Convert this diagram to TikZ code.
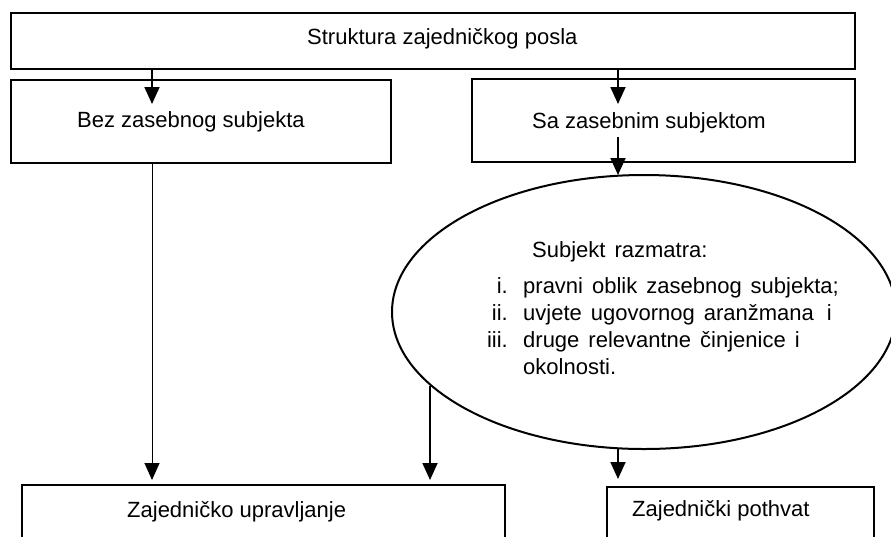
\documentclass[tikz,border=0pt]{standalone}
\usepackage{fontspec}
\setmainfont{Liberation Sans}
\usetikzlibrary{arrows.meta,shapes.geometric}
\newcommand\myWideSpace{\spaceskip=9pt\relax}
\tikzset{
  box/.style={draw, line width=2.3pt, inner sep=0pt, outer sep=0pt, anchor=north west},
  arr/.style={line width=1.8pt, -{Triangle[width=15pt,length=17pt]}},
  thinarr/.style={line width=0.9pt, -{Triangle[width=15pt,length=17pt]}},
  lbl/.style={font=\fontsize{22}{26}\selectfont, inner sep=0pt, anchor=base west},
  elbl/.style={font=\fontsize{22}{26}\selectfont\myWideSpace, inner sep=0pt, anchor=base west},
  num/.style={font=\fontsize{22}{26}\selectfont, inner sep=0pt, anchor=base east}
}
\begin{document}
\begin{tikzpicture}[x=1pt,y=-1pt]
\useasboundingbox (0,0) rectangle (891,536);
\clip (0,0) rectangle (891,536);
% boxes
\node[box, minimum width=844pt, minimum height=56pt] (top) at (11,13) {};
\node[box, minimum width=380pt, minimum height=83pt] (bez) at (11,80) {};
\node[box, minimum width=383pt, minimum height=83pt] (sa) at (472,79) {};
\node[box, minimum width=483pt, minimum height=80pt] (zu) at (22,485) {};
\node[box, minimum width=267pt, minimum height=80pt] (zp) at (607,487) {};
\node[draw, ellipse, line width=2pt, inner sep=0pt, outer sep=0pt,
      minimum width=504pt, minimum height=274pt] (ell) at (644,312) {};
% texts
\node[lbl] (tTop) at (307,44) {Struktura zajedničkog posla};
\node[lbl] (tBez) at (77,127) {Bez zasebnog subjekta};
\node[lbl] (tSa) at (532,128) {Sa zasebnim subjektom};
\node[lbl] (tZu) at (127,517) {Zajedničko upravljanje};
\node[lbl] (tZp) at (632,516) {Zajednički pothvat};
\node[elbl] (tSub) at (532,257) {Subjekt razmatra:};
\node[num] (n1) at (508,293) {i.};
\node[num] (n2) at (508,320) {ii.};
\node[num] (n3) at (508,347) {iii.};
\node[elbl] (l1) at (523,293) {pravni oblik zasebnog subjekta;};
\node[elbl] (l2) at (523,320) {uvjete ugovornog aranžmana\hspace{4pt} i};
\node[elbl] (l3) at (523,347) {druge relevantne činjenice i};
\node[elbl] (l4) at (523,374) {okolnosti.};
% connector coordinates
\coordinate (aL) at (152,69);
\coordinate (aLt) at (152,104);
\coordinate (aR) at (618,69);
\coordinate (aRt) at (618,104);
\coordinate (saS) at (618,137);
\coordinate (ellT) at (618,175);
\coordinate (bezS) at (152,163);
\coordinate (ellL) at (430,386);
\coordinate (ellB) at (618,448);
% connectors
\draw[arr] (aL) -- (aLt);
\draw[arr] (aR) -- (aRt);
\draw[arr] (saS) -- (ellT);
\draw[thinarr, shorten >=5pt] (bezS) -- (bezS |- zu.north);
\draw[arr, shorten >=5pt] (ellL) -- (ellL |- zu.north);
\draw[arr, shorten >=8pt] (ellB) -- (ellB |- zp.north);
\end{tikzpicture}
\end{document}
